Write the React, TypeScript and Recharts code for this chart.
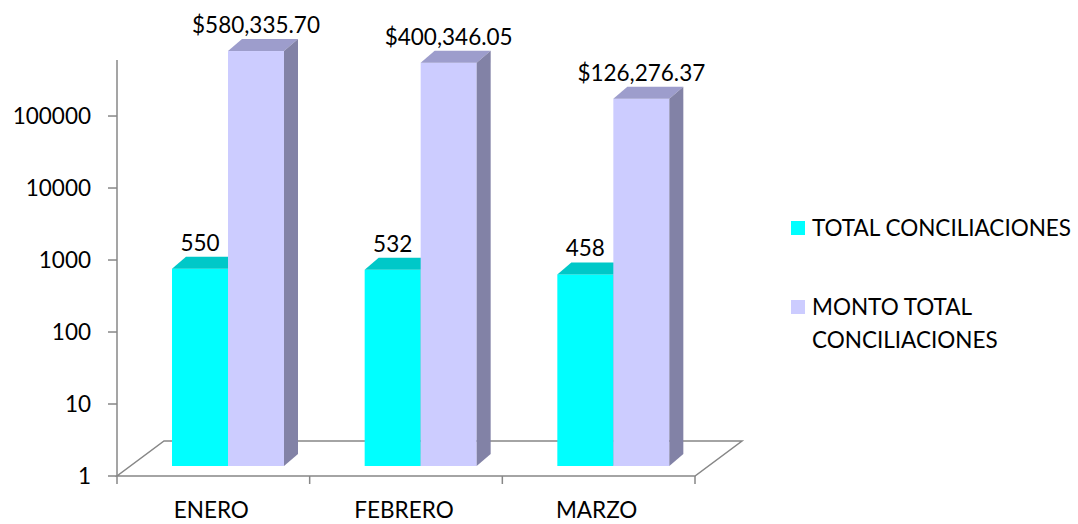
import React from "react";
import { BarChart, Bar, XAxis, YAxis, LabelList, Customized } from "recharts";

const months = ["ENERO", "FEBRERO", "MARZO"];
const totalConciliaciones = [550, 532, 458];
const montoTotal = [580335.7, 400346.05, 126276.37];
const yTicks = [1, 10, 100, 1000, 10000, 100000];

const data = months.map((m, i) => ({
  month: m,
  total: totalConciliaciones[i],
  monto: montoTotal[i],
}));

// layout
const W = 1078;
const H = 524;
const PLOT_LEFT = 117;
const PLOT_RIGHT = 695;
const PLOT_TOP = 60;
const PLOT_BOTTOM = 476;
const Y_AXIS_W = 100;
const X_AXIS_H = 44;
// floor depth (3d look) and bar position inside it
const FLOOR_DX = 47;
const FLOOR_DY = 35;
const BAR_DX = 15;
const BAR_DY = -10;
const BOX_DX = 14;
const BOX_DY = -12;
const FONT = "Lato, 'Open Sans', sans-serif";
const FS = 22.5;
const AXIS = "#878787";

const Floor = () => (
  <g>
    <polygon
      points={`${PLOT_LEFT},${PLOT_BOTTOM} ${PLOT_RIGHT},${PLOT_BOTTOM} ${PLOT_RIGHT + FLOOR_DX},${PLOT_BOTTOM - FLOOR_DY} ${PLOT_LEFT + FLOOR_DX},${PLOT_BOTTOM - FLOOR_DY}`}
      fill="none"
      stroke={AXIS}
      strokeWidth={1.5}
    />
  </g>
);

const make3D = (front: string, top: string, side: string) => (props: any) => {
  const { x, y, width, height } = props;
  if (width == null || height == null) return null;
  const X = x + BAR_DX;
  const Y = y + BAR_DY;
  const w = width;
  const h = height;
  return (
    <g>
      <rect x={X} y={Y} width={w} height={h} fill={front} />
      <polygon
        points={`${X},${Y} ${X + w},${Y} ${X + w + BOX_DX},${Y + BOX_DY} ${X + BOX_DX},${Y + BOX_DY}`}
        fill={top}
      />
      <polygon
        points={`${X + w},${Y} ${X + w + BOX_DX},${Y + BOX_DY} ${X + w + BOX_DX},${Y + h + BOX_DY} ${X + w},${Y + h}`}
        fill={side}
      />
    </g>
  );
};

const CyanBar = make3D("#00ffff", "#00c8c8", "#00a8a8");
const LilacBar = make3D("#ccccff", "#9d9dcc", "#8282a6");

const makeLabel = (fmt: (v: number) => string) => (props: any) => {
  const { x, y, width, value } = props;
  return (
    <text
      x={x + BAR_DX + width / 2}
      y={y + BAR_DY - 18}
      textAnchor="middle"
      fontSize={FS}
      fontFamily={FONT}
      fill="#000"
    >
      {fmt(value)}
    </text>
  );
};

const fmtMoney = (v: number) =>
  "$" + v.toLocaleString("en-US", { minimumFractionDigits: 2, maximumFractionDigits: 2 });

const band = (PLOT_RIGHT - PLOT_LEFT) / months.length;

const MonthTick = (props: any) => {
  const { x, y, payload, index } = props;
  return (
    <g>
      <line x1={x - band / 2} x2={x - band / 2} y1={y} y2={y + 8} stroke={AXIS} strokeWidth={1.5} />
      {index === months.length - 1 && (
        <line x1={x + band / 2} x2={x + band / 2} y1={y} y2={y + 8} stroke={AXIS} strokeWidth={1.5} />
      )}
      <text x={x - 2} y={y + 42} textAnchor="middle" fontSize={FS} fontFamily={FONT} fill="#000">
        {payload.value}
      </text>
    </g>
  );
};

export default function App() {
  return (
    <div style={{ position: "absolute", left: 0, top: 0, width: W, height: H, fontFamily: FONT, background: "#fff" }}>
      <BarChart
        width={W}
        height={H}
        data={data}
        barGap={0}
        barCategoryGap={40}
        margin={{
          top: PLOT_TOP,
          right: W - PLOT_RIGHT,
          bottom: H - PLOT_BOTTOM - X_AXIS_H,
          left: PLOT_LEFT - Y_AXIS_W,
        }}
      >
        <Customized component={Floor} />
        <XAxis
          dataKey="month"
          height={X_AXIS_H}
          axisLine={false}
          tickLine={false}
          tickSize={0}
          tickMargin={0}
          interval={0}
          tick={<MonthTick />}
        />
        <YAxis
          scale="log"
          type="number"
          domain={[1, 600000]}
          ticks={yTicks}
          width={Y_AXIS_W}
          axisLine={{ stroke: AXIS, strokeWidth: 1.5 }}
          tickLine={{ stroke: AXIS, strokeWidth: 1.5 }}
          tickSize={9}
          tickMargin={17}
          tick={{ fontSize: FS, fontFamily: FONT, fill: "#000" }}
          interval={0}
        />
        <Bar dataKey="total" fill="#00ffff" shape={CyanBar} isAnimationActive={false}>
          <LabelList dataKey="total" content={makeLabel((v) => String(v))} />
        </Bar>
        <Bar dataKey="monto" fill="#ccccff" shape={LilacBar} isAnimationActive={false}>
          <LabelList dataKey="monto" content={makeLabel(fmtMoney)} />
        </Bar>
      </BarChart>

      <div style={{ position: "absolute", left: 791, top: 211, fontSize: FS, color: "#000", lineHeight: "33px" }}>
        <div style={{ display: "flex", alignItems: "flex-start", whiteSpace: "nowrap" }}>
          <span style={{ width: 14, height: 14, background: "#00ffff", marginTop: 10, marginRight: 7 }} />
          <span>TOTAL CONCILIACIONES</span>
        </div>
        <div style={{ display: "flex", alignItems: "flex-start", marginTop: 46 }}>
          <span style={{ width: 14, height: 14, background: "#ccccff", marginTop: 10, marginRight: 7, flexShrink: 0 }} />
          <span style={{ width: 210 }}>MONTO TOTAL CONCILIACIONES</span>
        </div>
      </div>
    </div>
  );
}
